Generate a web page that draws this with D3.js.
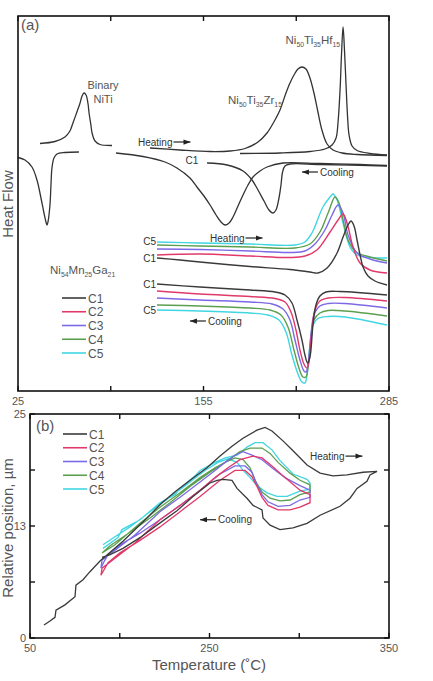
<!DOCTYPE html>
<html><head><meta charset="utf-8">
<script src="https://cdn.jsdelivr.net/npm/d3@7"></script>
<style>body{margin:0;background:#fff}svg{display:block}text{font-family:"Liberation Sans",Arial,sans-serif}</style>
</head><body><svg id="c" width="433" height="681"></svg>
<script>
// ---------- tick data ----------
const xTicksA = [25, 90, 155, 220, 285];
const xTickLabelsA = ["25", "", "155", "", "285"];
const xTicksB = [50, 125, 200, 275, 350];
const xTickLabelsB = ["50", "", "250", "", "350"];
const yTicksB = [0, 6.25, 12.5, 18.75, 25];
const yTickLabelsB = ["0", "", "13", "", "25"];
const cycles = ["C1", "C2", "C3", "C4", "C5"];
const cycleColors = ["#3a3a3a", "#e0396a", "#7b69e6", "#5b9f4f", "#40d6e2"];

// ---------- panel (a): DSC curves [temperature, heat flow (arb.)] ----------
const niTiHeat = [[40.4,247.5],[50.9,249.5],[57.9,254],[61.4,260],[63.5,268],[66.3,279],[68.5,288],[69.9,295],[71.3,298],[72.7,296],[74.1,287],[74.8,278],[76.2,265],[76.9,258],[79.0,250],[82.5,246.5],[90.9,245.5]];
const niTiCool = [[25.0,233.5],[29.9,231],[34.8,224],[38.3,211],[41.1,193],[43.2,178],[44.6,169],[45.3,166],[46.0,169],[47.4,186],[48.1,206],[48.8,223],[50.2,233],[52.3,237],[57.9,238.5],[67.7,239]];
const zrHeat = [[117.5,243],[138.5,241],[159.6,239.5],[173.6,240],[184.1,242.5],[193.2,249],[199.5,258],[205.1,271],[208.6,281],[212.8,298],[215.6,308],[218.4,316],[221.2,322],[224.0,324],[226.8,322],[229.6,313],[232.4,298],[235.2,279],[238.0,261],[241.6,247],[245.8,241],[252.1,238],[262.6,236.5],[283.6,235.5]];
const hfHeat = [[180.6,237.5],[208.6,238],[229.6,239.5],[240.1,242],[245.1,246],[247.9,253],[249.3,269],[250.7,301],[251.7,336],[252.8,364],[253.8,341],[254.9,306],[255.9,276],[257.0,256],[259.1,245],[262.6,240.5],[271.7,237.5],[283.6,236]];
const zrCool = [[93.7,238],[112.6,234.5],[128.0,229],[136.4,223],[145.5,213],[150.4,204],[155.3,195],[159.6,186],[163.8,176],[167.3,169],[170.1,166],[172.9,168],[175.7,174],[179.2,185],[182.7,196],[186.2,206],[189.7,214],[194.6,220],[199.5,224],[210.7,228],[236.6,227.5],[264.7,226.5],[283.6,225.5]];
const hfCool = [[157.5,228],[171.5,226],[182.7,220],[189.0,211],[193.2,201],[197.4,190],[200.9,181],[203.7,178],[205.8,181],[207.9,193],[209.3,206],[210.4,219],[212.1,225],[215.6,227],[236.6,226.5],[283.6,225]];

// Ni54Mn25Ga21 heating / cooling, cycles C1..C5
const mngHeatC1 = [[122.4,133],[138.5,131],[152.5,129],[187.6,124.5],[215.6,121.5],[229.6,119],[235.2,118],[241.6,123],[248.6,138],[252.8,154],[256.3,166],[258.4,170],[260.5,165],[262.6,151],[264.7,136],[266.8,124],[270.3,115],[275.2,110],[283.6,106]];
const mngHeatC2 = [[122.4,136],[152.5,137],[187.6,135],[215.6,133.5],[226.1,135],[234.5,141],[243.7,159],[249.3,171],[252.8,177],[255.6,168],[259.8,144],[264.7,128],[271.7,121],[283.6,118]];
const mngHeatC3 = [[122.4,142],[152.5,141.5],[187.6,140],[215.6,138.5],[226.1,140],[233.1,147],[240.1,161],[245.1,176],[249.3,186],[252.8,178],[256.3,156],[262.6,138],[271.7,132],[283.6,128]];
const mngHeatC4 = [[122.4,146],[152.5,145],[187.6,144],[219.1,143],[229.6,147],[236.6,159],[242.3,178],[247.2,194],[250.0,188],[252.8,171],[256.3,151],[261.9,139],[271.7,134],[283.6,130]];
const mngHeatC5 = [[122.4,149],[152.5,148],[187.6,147],[219.1,146],[226.1,149],[231.0,158],[238.7,184],[243.7,194],[245.8,197],[248.6,191],[252.8,168],[257.7,144],[262.6,136],[283.6,133]];
const mngCoolC1 = [[122.4,107],[152.5,104],[187.6,101],[205.1,99],[212.1,96],[217.0,88],[220.5,71],[224.0,51],[226.1,36],[227.9,28],[229.6,34],[231.7,66],[233.8,86],[236.6,95],[240.8,99],[250.7,99.5],[283.6,96]];
const mngCoolC2 = [[122.4,100],[152.5,97],[187.6,94.5],[205.1,92.5],[212.1,89],[216.3,79],[219.8,61],[222.6,41],[225.4,27],[227.5,23],[228.9,29],[231.0,61],[233.1,81],[236.6,90],[242.3,93],[254.2,93.5],[283.6,90]];
const mngCoolC3 = [[122.4,93],[152.5,91],[187.6,89],[203.0,87],[210.7,82],[215.6,71],[219.1,51],[222.6,31],[225.4,20],[226.8,19],[228.2,26],[230.3,56],[232.4,76],[236.6,85],[242.3,87.5],[254.2,87.5],[283.6,83]];
const mngCoolC4 = [[122.4,86],[152.5,85],[187.6,83],[201.6,81],[209.3,76],[214.2,64],[218.4,41],[221.9,23],[224.7,14],[226.8,14],[228.2,23],[230.3,51],[232.4,71],[236.6,78],[242.3,80.5],[254.2,80],[283.6,75]];
const mngCoolC5 = [[122.4,81],[152.5,80],[187.6,78],[200.2,76],[207.9,71],[212.8,59],[217.0,36],[221.2,17],[224.0,9],[226.1,8],[227.5,16],[229.6,46],[231.7,66],[235.2,72.5],[242.3,74.5],[254.2,74],[283.6,66]];

// ---------- panel (b): relative position loops [temperature, µm] ----------
const posC1 = [[61.7,1.45],[66.7,1.9],[70.9,2.3],[71.7,3.1],[79.2,3.7],[87.6,4.6],[88.4,5.9],[94.3,6.5],[100.1,7.4],[108.5,8.6],[127.7,10.8],[147.8,13.4],[160.3,15.1],[172.8,16.5],[189.6,18.2],[197.9,19.0],[208.8,20.3],[218.8,21.4],[228.0,22.3],[239.7,23.2],[246.4,23.5],[252.2,23.1],[261.4,22.0],[269.8,20.9],[281.5,19.3],[292.4,18.4],[303.2,18.1],[314.9,18.2],[328.3,18.5],[340.0,18.6],[334.1,18.2],[331.6,17.5],[323.3,16.7],[317.4,15.6],[309.1,14.7],[292.4,13.7],[281.5,12.8],[269.8,12.3],[258.9,12.1],[250.6,12.6],[244.7,13.4],[243.9,14.3],[236.4,14.8],[231.3,15.6],[223.0,16.7],[218.8,17.6],[211.3,17.7],[206.3,17.6],[200.4,17.3],[186.2,15.8],[172.8,14.2],[156.1,12.6],[141.9,11.2],[127.7,10.0],[116.9,9.3],[110.2,9.0]];
const posC2 = [[109.3,7.0],[110.2,7.8],[121.0,8.9],[137.7,10.6],[158.6,13.2],[175.4,14.8],[192.1,16.5],[204.6,17.9],[215.5,19.0],[225.5,19.9],[236.4,20.3],[243.9,20.1],[252.2,19.2],[263.1,17.9],[275.6,16.5],[284.0,16.0],[284.0,15.1],[275.6,14.6],[267.3,14.3],[257.3,14.3],[248.9,14.8],[243.9,15.7],[239.7,16.9],[235.5,18.0],[229.7,18.7],[221.3,18.7],[208.8,17.6],[192.1,15.8],[175.4,14.1],[158.6,12.4],[141.9,10.9],[125.2,9.5],[115.2,8.4],[109.3,7.0]];
const posC3 = [[109.3,7.8],[110.2,8.7],[121.0,9.8],[137.7,11.5],[158.6,14.1],[175.4,15.7],[192.1,17.4],[204.6,18.7],[213.0,19.6],[221.3,20.4],[228.0,20.8],[235.5,20.4],[243.9,19.9],[252.2,19.0],[263.1,17.9],[275.6,17.0],[284.0,16.5],[284.0,15.7],[275.6,15.4],[267.3,14.8],[257.3,14.7],[248.9,15.2],[243.9,16.0],[239.7,17.1],[235.5,18.5],[229.7,19.2],[221.3,19.2],[208.8,18.3],[192.1,16.5],[175.4,14.8],[158.6,13.2],[141.9,11.7],[125.2,10.4],[115.2,9.3],[111.8,8.5],[109.3,7.8]];
const posC4 = [[110.2,9.5],[121.0,10.4],[141.9,12.8],[158.6,14.6],[175.4,16.2],[192.1,17.9],[204.6,19.0],[213.0,19.6],[225.5,20.8],[233.9,21.2],[243.9,21.2],[250.6,20.6],[257.3,19.6],[267.3,18.4],[275.6,17.6],[284.0,17.1],[284.0,16.3],[275.6,16.0],[267.3,15.4],[258.9,15.3],[250.6,15.6],[243.9,16.3],[238.0,17.6],[233.9,19.0],[228.0,19.9],[221.3,20.1],[213.0,19.6],[200.4,18.5],[183.7,16.9],[167.0,15.1],[150.3,13.4],[133.6,11.8],[116.9,10.3],[110.2,9.5]];
const posC5 = [[111.0,10.0],[123.5,11.2],[126.9,12.1],[141.9,13.2],[158.6,15.1],[171.2,16.0],[175.4,16.7],[187.9,18.1],[192.1,18.7],[204.6,19.6],[213.0,20.1],[223.0,20.4],[231.3,21.3],[238.0,21.8],[244.7,21.8],[252.2,21.0],[258.9,19.8],[269.8,18.3],[281.5,17.7],[284.0,17.3],[284.0,16.6],[275.6,16.4],[264.8,15.8],[256.4,15.8],[248.1,16.2],[239.7,17.0],[233.9,17.9],[228.0,18.7],[223.0,19.6],[215.5,20.0],[207.1,19.6],[196.2,18.7],[183.7,17.4],[167.0,15.7],[150.3,14.1],[133.6,12.4],[121.0,11.3],[111.0,10.4]];

const mngHeat = [mngHeatC1, mngHeatC2, mngHeatC3, mngHeatC4, mngHeatC5];
const mngCool = [mngCoolC1, mngCoolC2, mngCoolC3, mngCoolC4, mngCoolC5];
const posLoops = [posC1, posC2, posC3, posC4, posC5];

// ---------- drawing ----------
const svg = d3.select("#c");
const defs = svg.append("defs");
defs.append("marker").attr("id","ah").attr("viewBox","0 0 8 6").attr("refX",8).attr("refY",3)
  .attr("markerWidth",7).attr("markerHeight",5.5).attr("markerUnits","userSpaceOnUse").attr("orient","auto")
  .append("path").attr("d","M0,0L8,3L0,6Z").attr("fill","#222");

const ink = "#333", labelInk = "#555";

function chem(g, x, y, parts, size, anchor) {
  const t = g.append("text").attr("x", x).attr("y", y).attr("font-size", size)
    .attr("fill", labelInk).attr("text-anchor", anchor || "start");
  let low = false;
  parts.forEach(p => {
    const isSub = /^\d+$/.test(p);
    const ts = t.append("tspan").text(p);
    if (isSub) { ts.attr("font-size", size * 0.6); if (!low) ts.attr("dy", size * 0.3); low = true; }
    else { if (low) ts.attr("dy", -size * 0.3); low = false; }
  });
  return t;
}
function arrowLabel(g, x, y, label, dir) {
  const grp = g.append("g");
  if (dir === "right") {
    const t = grp.append("text").attr("x", x).attr("y", y).attr("font-family","'Open Sans',sans-serif")
      .attr("font-size", 10).attr("fill", ink).text(label);
    const w = t.node().getComputedTextLength();
    grp.append("line").attr("x1", x + w + 1).attr("x2", x + w + 18).attr("y1", y - 3.5).attr("y2", y - 3.5)
      .attr("stroke", "#222").attr("stroke-width", 1.2).attr("marker-end", "url(#ah)");
  } else {
    grp.append("line").attr("x1", x + 16).attr("x2", x).attr("y1", y - 3.5).attr("y2", y - 3.5)
      .attr("stroke", "#222").attr("stroke-width", 1.2).attr("marker-end", "url(#ah)");
    grp.append("text").attr("x", x + 18).attr("y", y).attr("font-family","'Open Sans',sans-serif")
      .attr("font-size", 10).attr("fill", ink).text(label);
  }
}

// ===== Panel (a) =====
const A = {l: 18, r: 389, t: 16, b: 391};
const xA = d3.scaleLinear().domain([25, 285]).range([A.l, A.r]);
const yA = d3.scaleLinear().domain([0, 375]).range([A.b, A.t]);
const gA = svg.append("g");
const lineA = d3.line().x(d => xA(d[0])).y(d => yA(d[1])).curve(d3.curveCatmullRom.alpha(0.5));

[niTiHeat, niTiCool, zrHeat, hfHeat, zrCool, hfCool].forEach(s =>
  gA.append("path").attr("d", lineA(s)).attr("fill", "none").attr("stroke", ink).attr("stroke-width", 1.3));
[4,3,2,1,0].forEach(i => {
  gA.append("path").attr("d", lineA(mngHeat[i])).attr("fill","none").attr("stroke", cycleColors[i]).attr("stroke-width", 1.4);
  gA.append("path").attr("d", lineA(mngCool[i])).attr("fill","none").attr("stroke", cycleColors[i]).attr("stroke-width", 1.4);
});

gA.append("rect").attr("x", A.l).attr("y", A.t).attr("width", A.r - A.l).attr("height", A.b - A.t)
  .attr("fill", "none").attr("stroke", "#111").attr("stroke-width", 1.6);
xTicksA.forEach((t, i) => {
  gA.append("line").attr("x1", xA(t)).attr("x2", xA(t)).attr("y1", A.b).attr("y2", A.b - 5).attr("stroke","#111").attr("stroke-width",1.4);
  gA.append("line").attr("x1", xA(t)).attr("x2", xA(t)).attr("y1", A.t).attr("y2", A.t + 5).attr("stroke","#111").attr("stroke-width",1.4);
  if (xTickLabelsA[i]) gA.append("text").attr("x", xA(t)).attr("y", A.b + 14).attr("text-anchor","middle")
    .attr("font-size", 11).attr("fill", labelInk).text(xTickLabelsA[i]);
});
gA.append("text").attr("transform", `translate(13,204) rotate(-90)`).attr("text-anchor","middle")
  .attr("font-size", 15).attr("fill", labelInk).text("Heat Flow");
gA.append("text").attr("x", A.l + 3).attr("y", A.t + 14).attr("font-size", 15).attr("fill", labelInk).text("(a)");

// labels in panel (a)
gA.append("text").attr("x", xA(84.6)).attr("y", yA(306) + 4).attr("text-anchor","middle").attr("font-size",11).attr("fill",labelInk).text("Binary");
gA.append("text").attr("x", xA(84.6)).attr("y", yA(292) + 4).attr("text-anchor","middle").attr("font-size",11).attr("fill",labelInk).text("NiTi");
chem(gA, xA(250.7), yA(351) + 4, ["Ni","50","Ti","35","Hf","15"], 11.5, "end");
chem(gA, xA(210.0), yA(291) + 4, ["Ni","50","Ti","35","Zr","15"], 11.5, "end");
arrowLabel(gA, xA(109.1), yA(249) + 3.5, "Heating", "right");
gA.append("text").attr("x", xA(146.9)).attr("y", yA(231) + 3.5).attr("text-anchor","middle").attr("font-family","'Open Sans',sans-serif").attr("font-size",10).attr("fill",ink).text("C1");
arrowLabel(gA, xA(224.0), yA(219) + 3.5, "Cooling", "left");
arrowLabel(gA, xA(159.6), yA(153) + 3.5, "Heating", "right");
arrowLabel(gA, xA(145.5), yA(70) + 3.5, "Cooling", "left");
[["C5",150],["C1",133],["C1",107],["C5",81]].forEach(([lab, hf]) =>
  gA.append("text").attr("x", xA(121.7)).attr("y", yA(hf) + 3.5).attr("text-anchor","end")
    .attr("font-family","'Open Sans',sans-serif").attr("font-size",10).attr("fill",ink).text(lab));

// legend (a)
chem(gA, 50, 274, ["Ni","54","Mn","25","Ga","21"], 11.5, "start");
cycles.forEach((c, i) => {
  const y = 298 + i * 13.75;
  gA.append("line").attr("x1", 62).attr("x2", 86).attr("y1", y).attr("y2", y).attr("stroke", cycleColors[i]).attr("stroke-width", 1.6);
  gA.append("text").attr("x", 88).attr("y", y + 4.5).attr("font-size", 12).attr("fill", labelInk).text(c);
});

// ===== Panel (b) =====
const B = {l: 30, r: 389, t: 414, b: 638};
const xB = d3.scaleLinear().domain([50, 350]).range([B.l, B.r]);
const yB = d3.scaleLinear().domain([0, 25]).range([B.b, B.t]);
const gB = svg.append("g");
const lineB = d3.line().x(d => xB(d[0])).y(d => yB(d[1]));
[4,3,2,1,0].forEach(i =>
  gB.append("path").attr("d", lineB(posLoops[i])).attr("fill","none").attr("stroke", cycleColors[i]).attr("stroke-width", 1.3));

gB.append("rect").attr("x", B.l).attr("y", B.t).attr("width", B.r - B.l).attr("height", B.b - B.t)
  .attr("fill", "none").attr("stroke", "#111").attr("stroke-width", 1.6);
xTicksB.forEach((t, i) => {
  gB.append("line").attr("x1", xB(t)).attr("x2", xB(t)).attr("y1", B.b).attr("y2", B.b - 5).attr("stroke","#111").attr("stroke-width",1.4);
  gB.append("line").attr("x1", xB(t)).attr("x2", xB(t)).attr("y1", B.t).attr("y2", B.t + 5).attr("stroke","#111").attr("stroke-width",1.4);
  if (xTickLabelsB[i]) gB.append("text").attr("x", xB(t)).attr("y", B.b + 14).attr("text-anchor","middle")
    .attr("font-size", 11).attr("fill", labelInk).text(xTickLabelsB[i]);
});
yTicksB.forEach((t, i) => {
  gB.append("line").attr("x1", B.l).attr("x2", B.l + 5).attr("y1", yB(t)).attr("y2", yB(t)).attr("stroke","#111").attr("stroke-width",1.4);
  gB.append("line").attr("x1", B.r).attr("x2", B.r - 5).attr("y1", yB(t)).attr("y2", yB(t)).attr("stroke","#111").attr("stroke-width",1.4);
  if (yTickLabelsB[i]) gB.append("text").attr("x", B.l - 4).attr("y", yB(t) + 4).attr("text-anchor","end")
    .attr("font-size", 11).attr("fill", labelInk).text(yTickLabelsB[i]);
});
gB.append("text").attr("transform", `translate(13,${(B.t + B.b) / 2 + 2}) rotate(-90)`).attr("text-anchor","middle")
  .attr("font-size", 15).attr("fill", labelInk).text("Relative position, µm");
gB.append("text").attr("x", 209).attr("y", 670).attr("text-anchor","middle")
  .attr("font-size", 15).attr("fill", labelInk).text("Temperature (˚C)");
gB.append("text").attr("x", B.l + 6).attr("y", B.t + 17).attr("font-size", 15).attr("fill", labelInk).text("(b)");
arrowLabel(gB, xB(284.0), yB(20.3) + 3.5, "Heating", "right");
arrowLabel(gB, xB(192.1), yB(13.2) + 3.5, "Cooling", "left");
cycles.forEach((c, i) => {
  const y = 434 + i * 13.75;
  gB.append("line").attr("x1", 63).attr("x2", 87).attr("y1", y).attr("y2", y).attr("stroke", cycleColors[i]).attr("stroke-width", 1.6);
  gB.append("text").attr("x", 89).attr("y", y + 4.5).attr("font-size", 12).attr("fill", labelInk).text(c);
});
</script></body></html>
